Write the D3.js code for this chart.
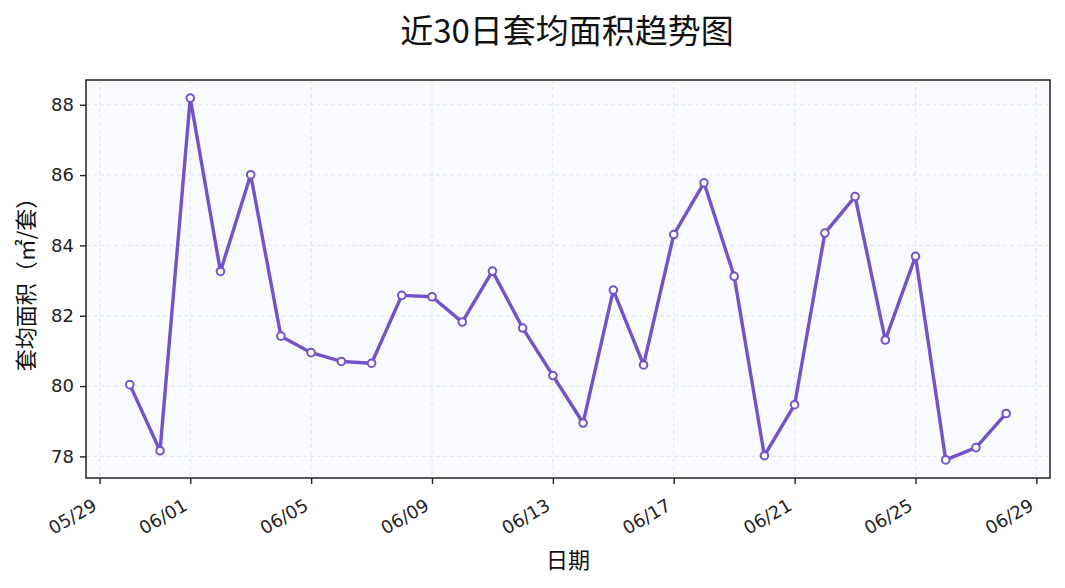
<!DOCTYPE html>
<html>
<head>
<meta charset="utf-8">
<script src="https://cdn.jsdelivr.net/npm/d3@7"></script>
<style>
  body { margin: 0; background: #fff; }
  svg { display: block; }
</style>
</head>
<body>
<svg id="chart" width="1065" height="588"></svg>
<script>
// 30 days, 05/30 .. 06/28
var dates = ["2024-05-30","2024-05-31","2024-06-01","2024-06-02","2024-06-03","2024-06-04","2024-06-05","2024-06-06","2024-06-07","2024-06-08",
             "2024-06-09","2024-06-10","2024-06-11","2024-06-12","2024-06-13","2024-06-14","2024-06-15","2024-06-16","2024-06-17","2024-06-18",
             "2024-06-19","2024-06-20","2024-06-21","2024-06-22","2024-06-23","2024-06-24","2024-06-25","2024-06-26","2024-06-27","2024-06-28"];
var avgArea = [80.04, 78.16, 88.19, 83.26, 86.01, 81.42, 80.95, 80.70, 80.65, 82.58,
               82.54, 81.82, 83.27, 81.65, 80.30, 78.95, 82.73, 80.60, 84.31, 85.78,
               83.12, 78.02, 79.47, 84.35, 85.39, 81.31, 83.69, 77.90, 78.25, 79.22];
var xTicks = ["2024-05-29","2024-06-01","2024-06-05","2024-06-09","2024-06-13","2024-06-17","2024-06-21","2024-06-25","2024-06-29"];
var yTicks = [78, 80, 82, 84, 86, 88];

var svg = d3.select("#chart");
var margin = {left: 86, right: 1050, top: 80, bottom: 478};
var parse = d3.timeParse("%Y-%m-%d");
var data = dates.map(function(d, i) { return {date: parse(d), v: avgArea[i]}; });

var x0 = data[0].date.getTime(), x1 = data[data.length - 1].date.getTime();
var padX = (x1 - x0) * 0.05;
var x = d3.scaleTime()
  .domain([new Date(x0 - padX), new Date(x1 + padX)])
  .range([margin.left, margin.right]);

var ext = d3.extent(avgArea);
var padY = (ext[1] - ext[0]) * 0.05;
var y = d3.scaleLinear()
  .domain([ext[0] - padY, ext[1] + padY])
  .range([margin.bottom, margin.top]);

var font = "'DejaVu Sans', sans-serif";
var cjk = "'Noto Sans CJK SC', sans-serif";
var purple = "#7353c6";

// plot background
svg.append("rect")
  .attr("x", margin.left).attr("y", margin.top)
  .attr("width", margin.right - margin.left)
  .attr("height", margin.bottom - margin.top)
  .attr("fill", "#f8fafd");

// grid
var grid = svg.append("g");
grid.selectAll(".gx").data(xTicks).enter().append("line")
  .attr("x1", function(d) { return x(parse(d)); })
  .attr("x2", function(d) { return x(parse(d)); })
  .attr("y1", margin.top).attr("y2", margin.bottom)
  .attr("stroke", "#dde1ea").attr("stroke-width", 0.9)
  .attr("stroke-dasharray", "4,3");
grid.selectAll(".gy").data(yTicks).enter().append("line")
  .attr("y1", function(d) { return y(d); })
  .attr("y2", function(d) { return y(d); })
  .attr("x1", margin.left).attr("x2", margin.right)
  .attr("stroke", "#dde1ea").attr("stroke-width", 0.9)
  .attr("stroke-dasharray", "4,3");

// axes
var xAxis = d3.axisBottom(x)
  .tickValues(xTicks.map(parse))
  .tickFormat(d3.timeFormat("%m/%d"))
  .tickSizeInner(6).tickSizeOuter(0);
var gx = svg.append("g")
  .attr("transform", "translate(0," + margin.bottom + ")")
  .call(xAxis);
gx.select(".domain").remove();
gx.selectAll("line").attr("stroke", "#222").attr("stroke-width", 1.4);
gx.selectAll("text")
  .attr("font-family", font).attr("font-size", 18).attr("fill", "#222")
  .attr("text-anchor", "end")
  .attr("dy", null).attr("y", 0).attr("x", 0)
  .attr("transform", "translate(-2,31) rotate(-30)");

var yAxis = d3.axisLeft(y).tickValues(yTicks).tickSizeInner(6).tickSizeOuter(0).tickPadding(6);
var gy = svg.append("g")
  .attr("transform", "translate(" + margin.left + ",0)")
  .call(yAxis);
gy.select(".domain").remove();
gy.selectAll("line").attr("stroke", "#222").attr("stroke-width", 1.4);
gy.selectAll("text").attr("font-family", font).attr("font-size", 18).attr("fill", "#222");

// frame
svg.append("rect")
  .attr("x", margin.left).attr("y", margin.top)
  .attr("width", margin.right - margin.left)
  .attr("height", margin.bottom - margin.top)
  .attr("fill", "none").attr("stroke", "#222").attr("stroke-width", 1.5);

// line
var line = d3.line()
  .x(function(d) { return x(d.date); })
  .y(function(d) { return y(d.v); });
svg.append("path")
  .datum(data)
  .attr("d", line)
  .attr("fill", "none")
  .attr("stroke", purple)
  .attr("stroke-width", 3.4)
  .attr("stroke-linejoin", "round");

svg.selectAll(".pt").data(data).enter().append("circle")
  .attr("cx", function(d) { return x(d.date); })
  .attr("cy", function(d) { return y(d.v); })
  .attr("r", 3.8)
  .attr("fill", "#fff")
  .attr("stroke", purple)
  .attr("stroke-width", 2);

// titles
svg.append("text")
  .attr("x", (margin.left + margin.right) / 2 - 1).attr("y", 43)
  .attr("text-anchor", "middle")
  .attr("font-family", cjk).attr("font-size", 33).attr("fill", "#111")
  .text("近30日套均面积趋势图");

svg.append("text")
  .attr("x", (margin.left + margin.right) / 2).attr("y", 568)
  .attr("text-anchor", "middle")
  .attr("font-family", cjk).attr("font-size", 22).attr("fill", "#111")
  .text("日期");

svg.append("text")
  .attr("transform", "translate(34," + ((margin.top + margin.bottom) / 2) + ") rotate(-90)")
  .attr("text-anchor", "middle")
  .attr("font-family", cjk).attr("font-size", 22).attr("fill", "#111")
  .text("套均面积（㎡/套）");
</script>
</body>
</html>
